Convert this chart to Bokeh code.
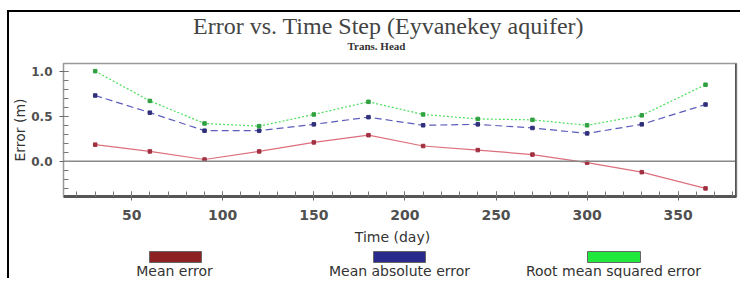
from bokeh.plotting import figure
from bokeh.layouts import column
from bokeh.models import Span, FixedTicker, Range1d, NumeralTickFormatter
from bokeh.core.properties import value
from bokeh.embed import file_html
from bokeh.resources import INLINE

# ---- data ----
days = [30, 60, 90, 120, 150, 180, 210, 240, 270, 300, 330, 365]
mean_error = [0.185, 0.11, 0.02, 0.11, 0.21, 0.29, 0.17, 0.125, 0.075, -0.015, -0.12, -0.30]
mean_abs_error = [0.73, 0.54, 0.34, 0.34, 0.41, 0.49, 0.40, 0.41, 0.37, 0.31, 0.41, 0.63]
rmse = [1.00, 0.67, 0.42, 0.39, 0.52, 0.66, 0.52, 0.47, 0.46, 0.40, 0.51, 0.85]
series_names = ["Mean error", "Mean absolute error", "Root mean squared error"]
x_major = [50, 100, 150, 200, 250, 300, 350]
x_minor = list(range(20, 390, 10))
y_major = [0.0, 0.5, 1.0]
y_minor = [round(-0.3 + 0.1 * i, 1) for i in range(14)]
title_text = "Error vs. Time Step (Eyvanekey aquifer)"
subtitle_text = "Trans. Head"
x_label = "Time (day)"
y_label = "Error (m)"

W = 740
H_TOP, H_MAIN, H_BOT = 52, 176, 50
FRAME_L, FRAME_R = 63, 736
X0, X1 = 12.6, 382
Y0, Y1 = -0.39, 1.085


def blank(h):
    # frame of these panels is aligned with the main plot's frame by the column layout,
    # so x data units equal page pixels
    f = figure(width=W, height=h, output_backend="svg", toolbar_location=None,
               x_range=Range1d(FRAME_L, FRAME_R), y_range=Range1d(h, 0),
               x_axis_location=None, y_axis_location=None,
               min_border=0, min_border_left=FRAME_L, min_border_right=W - FRAME_R,
               min_border_top=0, min_border_bottom=0)
    f.outline_line_color = None
    f.xgrid.visible = False
    f.ygrid.visible = False
    f.background_fill_alpha = 0
    f.border_fill_alpha = 0
    return f


# ---- title panel ----
top = blank(H_TOP)
top.text(x=[388], y=[25], text=[title_text], text_font=value("Liberation Serif"),
         text_font_size="24px", text_color="#444444", text_align="center",
         text_baseline="middle")
top.text(x=[376], y=[45], text=[subtitle_text], text_font=value("Liberation Serif"),
         text_font_size="11px", text_font_style="bold", text_color="#333333",
         text_align="center", text_baseline="middle")

# ---- main plot ----
p = figure(width=W, height=H_MAIN, output_backend="svg", toolbar_location=None,
           x_range=Range1d(X0, X1), y_range=Range1d(Y0, Y1),
           min_border_left=FRAME_L, min_border_top=11, min_border_right=W - FRAME_R,
           min_border_bottom=32)
p.background_fill_color = "white"
p.border_fill_alpha = 0
p.outline_line_color = "#999999"
p.outline_line_width = 1.5
p.xgrid.visible = False
p.ygrid.visible = False

p.xaxis.ticker = FixedTicker(ticks=x_major, minor_ticks=x_minor)
p.yaxis.ticker = FixedTicker(ticks=y_major, minor_ticks=y_minor)
p.yaxis.formatter = NumeralTickFormatter(format="0.0")
for ax in (p.xaxis[0], p.yaxis[0]):
    ax.major_label_text_font = "DejaVu Sans"
    ax.major_label_text_font_style = "bold"
    ax.major_label_text_color = "#505050"
    ax.major_tick_line_color = "#666666"
    ax.minor_tick_line_color = "#777777"
    ax.major_tick_in = 5
    ax.major_tick_out = 4
    ax.minor_tick_in = 5
    ax.minor_tick_out = 0
p.xaxis.major_label_text_font_size = "14px"
p.yaxis.major_label_text_font_size = "12px"
p.xaxis.axis_line_color = "#555555"
p.xaxis.axis_line_width = 3
p.xaxis.major_label_standoff = 9
p.yaxis.axis_line_color = "#999999"
p.yaxis.axis_line_width = 1
p.yaxis.major_label_standoff = 7
p.yaxis.axis_label = y_label
p.yaxis.axis_label_text_font = "DejaVu Sans"
p.yaxis.axis_label_text_font_size = "14px"
p.yaxis.axis_label_text_font_style = "normal"
p.yaxis.axis_label_text_color = "#333333"
p.yaxis.axis_label_standoff = 0

p.add_layout(Span(location=0, dimension="width", line_color="#888888", line_width=1.5))
p.add_layout(Span(location=X1, dimension="height", line_color="#555555", line_width=3))

colors_line = ["#dd6f7c", "#5c5cbc", "#4ade5a"]
colors_mark = ["#a03040", "#30307a", "#30a040"]
dashes = ["solid", "7 4", "2 2"]
for ys, cl, cm, d in zip([mean_error, mean_abs_error, rmse], colors_line, colors_mark, dashes):
    p.line(days, ys, line_color=cl, line_width=1.2, line_dash=d)
    p.scatter(days, ys, marker="square", size=3.5, color=cm)

# ---- x label + legend panel ----
bot = blank(H_BOT)
bot.text(x=[392], y=[236 - 228], text=[x_label], text_font=value("DejaVu Sans"),
         text_font_size="14px", text_color="#333333", text_align="center",
         text_baseline="middle")
leg_colors = ["#8e2222", "#2a2a8c", "#20e83c"]
leg_left = [149, 373, 587]
leg_right = [201, 425, 640]
bot.quad(left=leg_left, right=leg_right, top=[251 - 228] * 3, bottom=[262 - 228] * 3,
         fill_color=leg_colors, line_color="#666666", line_width=1)
bot.text(x=[174, 399, 613], y=[270 - 228] * 3,
         text=series_names, text_font=value("DejaVu Sans"), text_font_size="14px",
         text_color="#333333", text_align="center", text_baseline="middle")

layout = column(top, p, bot, spacing=0, styles={
    "background": "linear-gradient(#000,#000) 7px 10px / 2px calc(100% - 10px) no-repeat, "
                  "linear-gradient(#000,#000) 7px 10px / calc(100% - 7px) 2px no-repeat, #ffffff"
})

open("out.html", "w").write(file_html(layout, INLINE))
